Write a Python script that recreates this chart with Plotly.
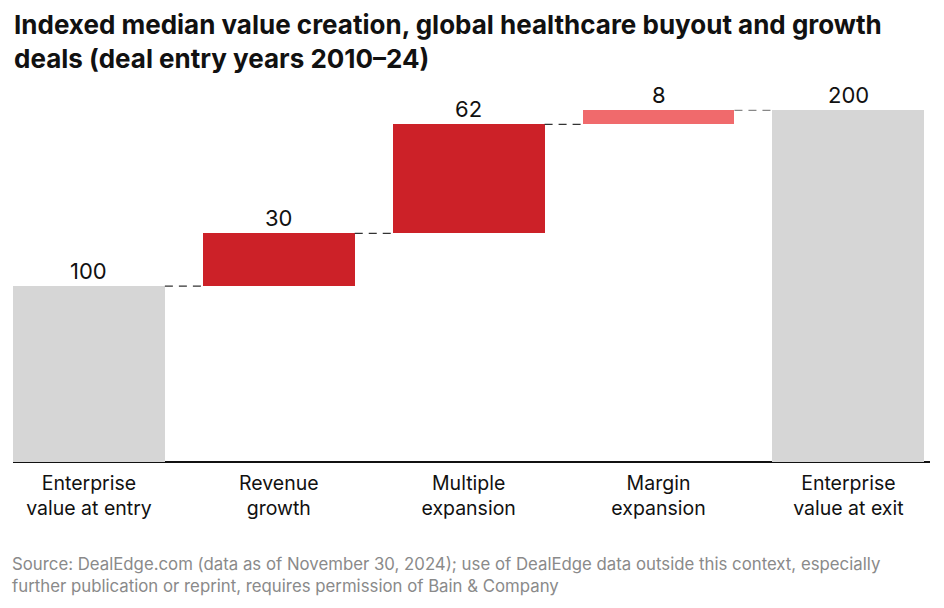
import plotly.graph_objects as go

categories = ["Enterprise<br>value at entry", "Revenue<br>growth", "Multiple<br>expansion",
              "Margin<br>expansion", "Enterprise<br>value at exit"]
values = [100, 30, 62, 8, 200]
is_total = [True, False, False, False, True]
colors = ["#D6D6D6", "#CC2128", "#CC2128", "#F06A6C", "#D6D6D6"]
connector_colors = ["#333333", "#333333", "#333333", "#888888"]

title_text = ("<b>Indexed median value creation, global healthcare buyout and growth<br>"
              "deals (deal entry years 2010\u201324)</b>")
source_text = ("Source: DealEdge.com (data as of November 30, 2024); use of DealEdge data outside this context, especially<br>"
               "further publication or reprint, requires permission of Bain & Company")

# compute bases / tops
bases, tops = [], []
running = 0
for v, t in zip(values, is_total):
    if t:
        bases.append(0)
        running = v
    else:
        bases.append(running)
        running += v
    tops.append(bases[-1] + v)

xs = list(range(len(values)))
width = 0.8
FONT = "Inter"

fig = go.Figure()
fig.add_trace(go.Bar(x=xs, y=values, base=bases, width=width,
                     marker=dict(color=colors, line=dict(width=0)),
                     hoverinfo="skip", showlegend=False))

for i in range(len(values) - 1):
    fig.add_trace(go.Scatter(x=[i + width / 2, i + 1 - width / 2], y=[tops[i], tops[i]],
                             mode="lines", line=dict(color=connector_colors[i], width=1.3, dash="8px,6px"),
                             hoverinfo="skip", showlegend=False))

annotations = []
for i, v in enumerate(values):
    annotations.append(dict(x=i, y=tops[i], text=str(v), showarrow=False, xref="x", yref="y",
                            yanchor="bottom", yshift=0,
                            font=dict(family=FONT, size=22, color="#111111")))
annotations.append(dict(x=0, y=1.204, xref="paper", yref="paper", xanchor="left", yanchor="top",
                        align="left", showarrow=False, text=title_text, xshift=-1,
                        font=dict(family=FONT, size=26, color="#111111")))
annotations.append(dict(x=0, y=-0.238, xref="paper", yref="paper", xanchor="left", yanchor="top",
                        align="left", showarrow=False, text=source_text, xshift=-3,
                        font=dict(family=FONT, size=16.8, color="#8A8A8A")))

fig.update_layout(
    width=928, height=592,
    margin=dict(l=5, r=6, t=76, b=138),
    paper_bgcolor="white", plot_bgcolor="white",
    bargap=0,
    xaxis=dict(tickmode="array", tickvals=xs, ticktext=categories, range=[-0.4, 4.43],
               showgrid=False, zeroline=False, showline=False, ticks="", ticklabelstandoff=7,
               tickfont=dict(family=FONT, size=19.5, color="#111111")),
    yaxis=dict(range=[0, 215], showgrid=False, zeroline=True, zerolinecolor="#111111",
               zerolinewidth=2, showticklabels=False, ticks="", showline=False, fixedrange=True),
    annotations=annotations,
)

fig.write_html("out.html")
